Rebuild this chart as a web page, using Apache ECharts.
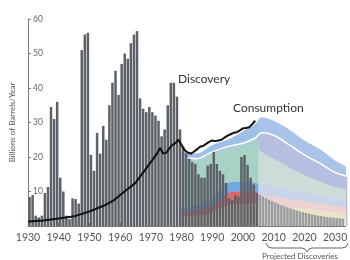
<!DOCTYPE html>
<html>
<head>
<meta charset="utf-8">
<script src="https://cdn.jsdelivr.net/npm/echarts@6/dist/echarts.min.js"></script>
<style>
html,body{margin:0;padding:0;background:#fff;}
#main{width:350px;height:260px;}
</style>
</head>
<body>
<div id="main"></div>
<script>
// discoveries per year, 1930 - 2004
var discFirstYear = 1930;
var discovery = [
	8.4, 9, 3, 2.5, 3, 9.6, 11.3, 34.5, 31, 36,
	14, 10, 3, 2, 8, 7.8, 6.5, 51, 55.5, 56,
	20.6, 16, 27, 21, 29, 25, 35, 41.5, 45, 38,
	47, 50, 48.5, 53, 55.5, 56.5, 37, 34, 33, 34.5,
	33, 32, 30.5, 26, 28, 35, 41.5, 41.5, 37.5, 28,
	23, 21, 19.5, 18.5, 18, 15, 14, 14, 17.5, 18,
	21.5, 18, 16, 15, 12.5, 8, 7.5, 9, 8.5, 20,
	20.6, 17.7, 14, 12, 9.5
];
// projected discoveries, 2005 - 2032
var projFirstYear = 2005;
var projected = [
	9, 8.5, 8, 7.6, 7.2, 6.8, 6.4, 6, 5.7, 5.4,
	5.1, 4.8, 4.5, 4.2, 4, 3.8, 3.6, 3.4, 3.2, 3,
	2.9, 2.7, 2.6, 2.5, 2.4, 2.3, 2.2, 2.1
];
// consumption line
var consYears = [1930,1935,1940,1945,1950,1955,1958,1960,1965,1970,1972,1973,1974,1975,1976,1977,1978,1979,
	1980,1981,1982,1983,1984,1985,1986,1987,1988,1989,1990,1991,1992,1993,1994,1995,1996,1997,1998,1999,
	2000,2001,2002,2003,2004];
var consumption = [1.3,1.6,2.2,2.8,4.2,6,7.5,9,12.5,18.5,21,22.6,21,21.2,22.5,23.5,24,25,
	23.5,22,21.3,21,21.5,22.2,23,23.2,23.8,24.4,24.8,24.6,24.8,25,25.6,26.2,26.6,27,27.2,27.7,
	28.3,28.4,28.6,29.5,30.5];
// production bands (upper edge of each band)
var bandYears   = [1980, 1985, 1990, 1995, 2000, 2004, 2006, 2010, 2015, 2020, 2025, 2030, 2034];
var beigeTop    = [3,    3,    4,    6,    6.5,  6.5,  6.5,  6,    5.5,  5,    4.5,  4,    3.8];
var pinkTop     = [4,    4.5,  6,    9.5,  10,   10,   9,    8.5,  7.8,  7.2,  6.5,  5.8,  5.5];
var blueTop     = [5,    6,    8,    12.5, 12.8, 12.5, 12,   11.3, 10.4, 9.6,  8.7,  7.8,  7.4];
var mintTop     = [19,   18.5, 20.5, 21.5, 22.5, 23.5, 21.5, 19.5, 17,   14.8, 13,   11.3, 10.6];
var lavenderTop = [20,   19.5, 21.5, 23,   24,   25.5, 27,   26.3, 23.6, 20.6, 18.2, 15.5, 14.4];
var topEdge     = [21.5, 21,   23.5, 25,   27.5, 29.5, 31.5, 30.5, 28,   24.8, 22.3, 19,   17];

var font = 'Lato';
var myChart = echarts.init(document.getElementById('main'));

// colour left of 2005 / right of 2005
function split(left, right){
	var f = (2005 - bandYears[0]) / (bandYears[bandYears.length-1] - bandYears[0]);
	return {type:'linear', x:0, y:0, x2:1, y2:0, colorStops:[
		{offset:0, color:left}, {offset:f-0.002, color:left},
		{offset:f+0.002, color:right}, {offset:1, color:right}
	]};
}
function band(name, tops, left, right, line){
	var d = [];
	for(var i=0;i<bandYears.length;i++){ d.push([bandYears[i], tops[i]]); }
	return {
		name:name, type:'line', data:d, symbol:'none', smooth:0.3, z:1,
		lineStyle: line || {width:0},
		areaStyle:{color:split(left, right), opacity:1},
		silent:true
	};
}

var barData = [];
for(var i=0;i<discovery.length;i++){
	barData.push({value:[discFirstYear+i+0.5, discovery[i]], itemStyle:{color:'#5c6268'}});
}
for(var j=0;j<projected.length;j++){
	barData.push({value:[projFirstYear+j+0.5, projected[j]], itemStyle:{color:'#9a9ea3'}});
}
var consData = [];
for(var k=0;k<consYears.length;k++){ consData.push([consYears[k], consumption[k]]); }

var option = {
	animation:false,
	grid:{left:20, right:2, top:19, bottom:34},
	xAxis:{
		type:'value', min:1930, max:2033.5, interval:10,
		axisLine:{lineStyle:{color:'#7a7a7a'}},
		axisTick:{inside:true, length:3, lineStyle:{color:'#7a7a7a'}},
		axisLabel:{color:'#555', fontSize:10.5, fontFamily:font, margin:6, showMaxLabel:false,
			formatter:function(v){return String(v);}},
		splitLine:{show:false}
	},
	yAxis:{
		type:'value', min:0, max:60, interval:10,
		name:'Billions of Barrels/Year', nameLocation:'middle', nameGap:12,
		nameTextStyle:{color:'#555', fontSize:8, fontFamily:font},
		axisLine:{show:true, lineStyle:{color:'#7a7a7a'}},
		axisTick:{show:true, inside:true, length:3, lineStyle:{color:'#7a7a7a'}},
		axisLabel:{inside:true, margin:5, color:'#666', fontSize:8.5, fontFamily:font, showMinLabel:false},
		splitLine:{show:false}
	},
	series:[
		band('top', topEdge, '#9ebfe6', '#a9c3e9'),
		band('lavender', lavenderTop, '#a9cfd2', '#b7bfe0', {color:'#ffffff', width:1.5}),
		band('mint', mintTop, '#a9d2c6', '#cddcd8'),
		band('blue', blueTop, '#72a8e0', '#c7d4ea'),
		band('pink', pinkTop, '#e2676c', '#ecd3d2'),
		band('beige', beigeTop, '#d8c9a8', '#ece3c9'),
		{
			name:'Discovery', type:'bar', barWidth:2.5, data:barData, silent:true, z:5
		},
		{
			name:'Consumption', type:'line', data:consData, symbol:'none', z:6,
			lineStyle:{color:'#111', width:2}, silent:true
		}
	],
	graphic:[
		{type:'text', left:178, top:73, style:{text:'Discovery', font:'12px Lato', fill:'#333'}},
		{type:'text', left:233, top:102, style:{text:'Consumption', font:'12px Lato', fill:'#333'}},
		{type:'polyline', shape:{points:[[266,243],[268,247],[272,248],[302,248],[305,249],[307,252],[309,249],[312,248],[342,248],[346,247],[348,243]]},
			style:{stroke:'#666', lineWidth:1, fill:null}},
		{type:'text', left:262, top:252, style:{text:'Projected Discoveries', font:'8px Lato', fill:'#555'}}
	]
};
myChart.setOption(option);
</script>
</body>
</html>
